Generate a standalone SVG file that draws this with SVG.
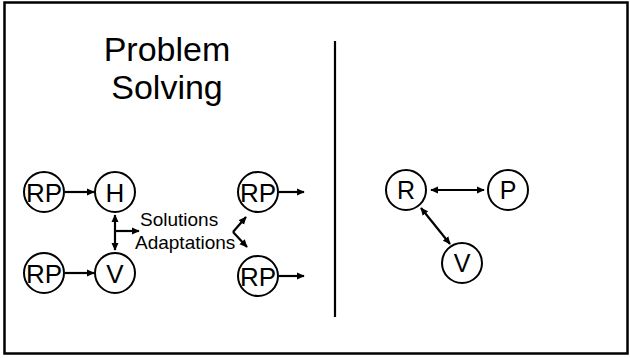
<svg xmlns="http://www.w3.org/2000/svg" width="630" height="358" viewBox="0 0 630 358">
<defs>
<marker id="ah" viewBox="0 0 10 10" refX="9" refY="5" markerUnits="userSpaceOnUse" markerWidth="8" markerHeight="8" orient="auto-start-reverse">
<path d="M0,0.5 L10,5 L0,9.5 z" fill="#000"/>
</marker>
<style>
.n{fill:#fff;stroke:#000;stroke-width:2}
.t{font-family:"Liberation Sans",Arial,sans-serif;fill:#000;text-anchor:middle}
.c line{stroke:#000;stroke-width:2.2}
.lbl{font-family:"Liberation Sans",Arial,sans-serif;font-size:19px;fill:#000}
</style>
</defs>
<rect x="0" y="0" width="630" height="358" fill="#fff"/>
<rect x="4.5" y="2.5" width="623" height="351" fill="none" stroke="#000" stroke-width="2.5"/>
<line x1="335" y1="41" x2="335" y2="317" stroke="#000" stroke-width="2.2"/>
<g id="title">
<text class="t" x="167" y="61" font-size="34">Problem</text>
<text class="t" x="167" y="99" font-size="34">Solving</text>
</g>
<g id="rp1"><circle class="n" cx="44" cy="192" r="20"/><text class="t" x="44" y="201.5" font-size="26">RP</text></g>
<g id="h"><circle class="n" cx="115" cy="192" r="20"/><text class="t" x="115" y="201.5" font-size="26">H</text></g>
<g id="rp2"><circle class="n" cx="44" cy="273" r="20"/><text class="t" x="44" y="282.5" font-size="26">RP</text></g>
<g id="v"><circle class="n" cx="115" cy="273" r="20"/><text class="t" x="115" y="282.5" font-size="26">V</text></g>
<g id="rp3"><circle class="n" cx="258" cy="192" r="20"/><text class="t" x="258" y="201.5" font-size="26">RP</text></g>
<g id="rp4"><circle class="n" cx="258" cy="276" r="20"/><text class="t" x="258" y="285.5" font-size="26">RP</text></g>
<g id="labels">
<text class="lbl" x="140" y="226">Solutions</text>
<text class="lbl" x="135" y="249">Adaptations</text>
</g>
<g id="r"><circle class="n" cx="406" cy="190" r="20"/><text class="t" x="406" y="199" font-size="25">R</text></g>
<g id="p"><circle class="n" cx="508" cy="190" r="20"/><text class="t" x="508" y="199" font-size="25">P</text></g>
<g id="v2"><circle class="n" cx="462" cy="263" r="20"/><text class="t" x="462" y="272" font-size="25">V</text></g>
<g id="connectors" class="c">
<line x1="65" y1="192" x2="94" y2="192" marker-end="url(#ah)"/>
<line x1="65" y1="273" x2="94" y2="273" marker-end="url(#ah)"/>
<line x1="115" y1="215" x2="115" y2="250" marker-start="url(#ah)" marker-end="url(#ah)"/>
<line x1="115" y1="231" x2="139" y2="231" marker-end="url(#ah)"/>
<line x1="233" y1="232" x2="246" y2="217" marker-end="url(#ah)"/>
<line x1="233" y1="232" x2="247" y2="247" marker-end="url(#ah)"/>
<line x1="279" y1="192" x2="304" y2="192" marker-end="url(#ah)"/>
<line x1="279" y1="276" x2="304" y2="276" marker-end="url(#ah)"/>
<line x1="431" y1="190" x2="484" y2="190" marker-start="url(#ah)" marker-end="url(#ah)"/>
<line x1="421" y1="208" x2="450" y2="244" marker-start="url(#ah)" marker-end="url(#ah)"/>
</g>
</svg>
